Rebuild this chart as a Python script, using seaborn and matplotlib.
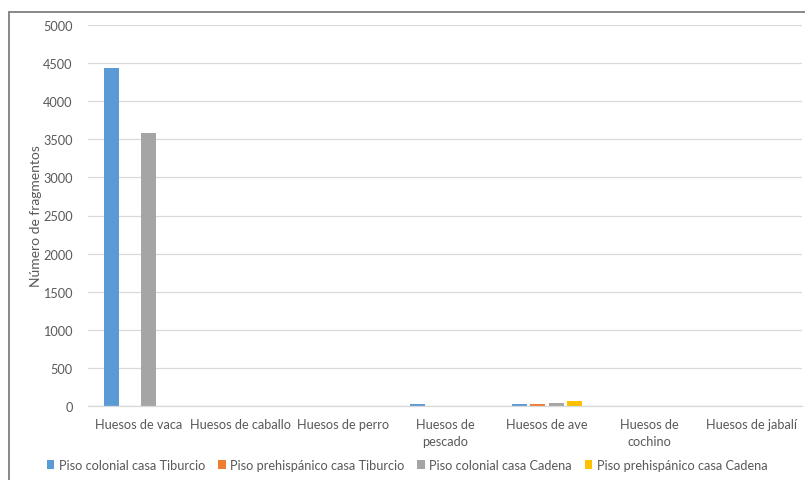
import matplotlib
matplotlib.use("Agg")
import matplotlib.pyplot as plt
from matplotlib.lines import Line2D
import seaborn as sns
import pandas as pd

categories = ["Huesos de vaca", "Huesos de caballo", "Huesos de perro", "Huesos de\npescado",
              "Huesos de ave", "Huesos de\ncochino", "Huesos de jabalí"]
series = ["Piso colonial casa Tiburcio", "Piso prehispánico casa Tiburcio",
          "Piso colonial casa Cadena", "Piso prehispánico casa Cadena"]
colonial_tiburcio = [4440, 0, 0, 30, 25, 0, 0]
prehisp_tiburcio = [0, 0, 0, 0, 25, 0, 0]
colonial_cadena = [3585, 0, 0, 0, 35, 0, 0]
prehisp_cadena = [0, 0, 0, 0, 60, 0, 0]
yticks = [0, 500, 1000, 1500, 2000, 2500, 3000, 3500, 4000, 4500, 5000]
colors = ["#5b9bd5", "#ed7d31", "#a5a5a5", "#ffc000"]

rows = []
for s, vals in zip(series, [colonial_tiburcio, prehisp_tiburcio, colonial_cadena, prehisp_cadena]):
    for c, v in zip(categories, vals):
        rows.append({"cat": c, "serie": s, "val": v})
df = pd.DataFrame(rows)

sns.set_theme(style="white")
plt.rcParams["font.family"] = ["Lato", "DejaVu Sans"]
txt = "#595959"
fs = 9.2

fig = plt.figure(figsize=(8.05, 4.81), dpi=100)
ax = fig.add_axes([88/805, 74/481, 714/805, 381/481])
sns.barplot(data=df, x="cat", y="val", hue="serie", order=categories, hue_order=series,
            palette=colors, width=0.71, gap=0.17, ax=ax, legend=True, saturation=1,
            linewidth=0, edgecolor="none")

ax.set_ylim(0, 5000)
ax.set_yticks(yticks)
ax.set_yticklabels([str(t) for t in yticks], color=txt, fontsize=fs)
ax.set_xticklabels(categories, color=txt, fontsize=fs, linespacing=1.5)
ax.tick_params(axis="y", length=0, pad=11)
ax.tick_params(axis="x", length=0, pad=9)
ax.set_xlabel("")
ax.set_ylabel("Número de fragmentos", color=txt, fontsize=10)
ax.yaxis.set_label_coords((42 - 88) / 714, 0.5)
ax.yaxis.grid(True, color="#d9d9d9", linewidth=0.9)
ax.set_axisbelow(True)
for side in ["top", "right", "left"]:
    ax.spines[side].set_visible(False)
ax.spines["bottom"].set_color("#d9d9d9")
ax.spines["bottom"].set_linewidth(0.9)

leg = ax.legend(loc="center", bbox_to_anchor=(0.5 - 38/714, (466 - 407) / -381),
                ncol=4, frameon=False, fontsize=fs, handlelength=0.6, handleheight=0.6,
                handletextpad=0.35, columnspacing=1.0, labelcolor=txt)

fig.add_artist(Line2D([9/805, 9/805], [0, 1 - 13/481], color="#7f7f7f", linewidth=1.3))
fig.add_artist(Line2D([9/805, 1], [1 - 13/481, 1 - 13/481], color="#7f7f7f", linewidth=1.3))

fig.savefig("out.png", dpi=100, facecolor="white")
